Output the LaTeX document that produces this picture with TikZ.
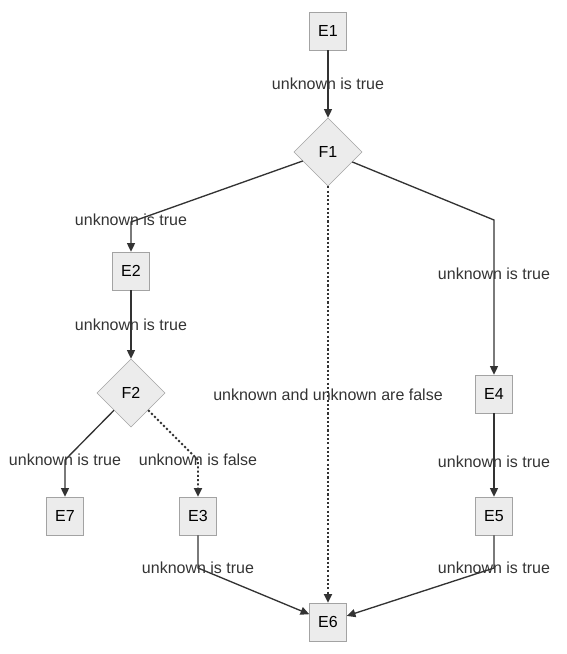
\documentclass[tikz,border=0pt]{standalone}
\usepackage{fontspec}
\setmainfont{Liberation Sans}
\usetikzlibrary{arrows.meta,shapes.geometric}
\definecolor{boxfill}{HTML}{ECECEC}
\definecolor{boxline}{HTML}{A3A3A3}
\definecolor{linkline}{HTML}{333333}

\begin{document}
\begin{tikzpicture}[x=0.75pt,y=-0.75pt,
        font=\fontsize{12}{14}\selectfont,
        stepbox/.style={rectangle,draw=boxline,fill=boxfill,minimum width=27.75pt,minimum height=28.5pt,inner sep=0pt},
        choice/.style={diamond,draw=boxline,fill=boxfill,minimum width=51pt,minimum height=51pt,inner sep=0pt,aspect=1},
        link/.style={-{Triangle[length=6.5pt,width=6pt]},draw=linkline,line width=1pt},
        dotlink/.style={link,line width=1.4pt,dash pattern=on 1.6pt off 1.6pt},
        lbl/.style={text=linkline,inner sep=1pt}]
        \useasboundingbox (0,0) rectangle (567,654);
        \node [stepbox] (E1) at (328,31) {E1};
        \node [choice] (F1) at (328,152) {F1};
        \node [stepbox] (E2) at (131,271) {E2};
        \node [choice] (F2) at (131,393) {F2};
        \node [stepbox] (E7) at (65,516) {E7};
        \node [stepbox] (E3) at (198,516) {E3};
        \node [stepbox] (E4) at (494,394) {E4};
        \node [stepbox] (E5) at (494,516) {E5};
        \node [stepbox] (E6) at (328,622) {E6};
        \coordinate (bendE2) at (131,222);
        \coordinate (bendE4) at (494,220);
        \coordinate (bendE7) at (65,460);
        \coordinate (bendE3) at (198,460);
        \coordinate (downE3) at (198,568);
        \coordinate (downE5) at (494,568);
        \draw[link] (E1) -- node[lbl] {unknown is true} (F1);
        \draw[link] (F1) -- (bendE2) node[lbl,yshift=2pt] {unknown is true} -- (E2);
        \draw[link] (F1) -- (bendE4) -- node[lbl,pos=0.35] {unknown is true} (E4);
        \draw[dotlink] (F1) -- node[lbl] {unknown and unknown are false} (E6);
        \draw[link] (E2) -- node[lbl] {unknown is true} (F2);
        \draw[link] (F2) -- (bendE7) node[lbl] {unknown is true} -- (E7);
        \draw[dotlink] (F2) -- (bendE3) node[lbl] {unknown is false} -- (E3);
        \draw[link] (E4) -- node[lbl,pos=0.58] {unknown is true} (E5);
        \draw[link] (E3) -- (downE3) node[lbl] {unknown is true} -- (E6);
        \draw[link] (E5) -- (downE5) node[lbl] {unknown is true} -- (E6);
\end{tikzpicture}
\end{document}
